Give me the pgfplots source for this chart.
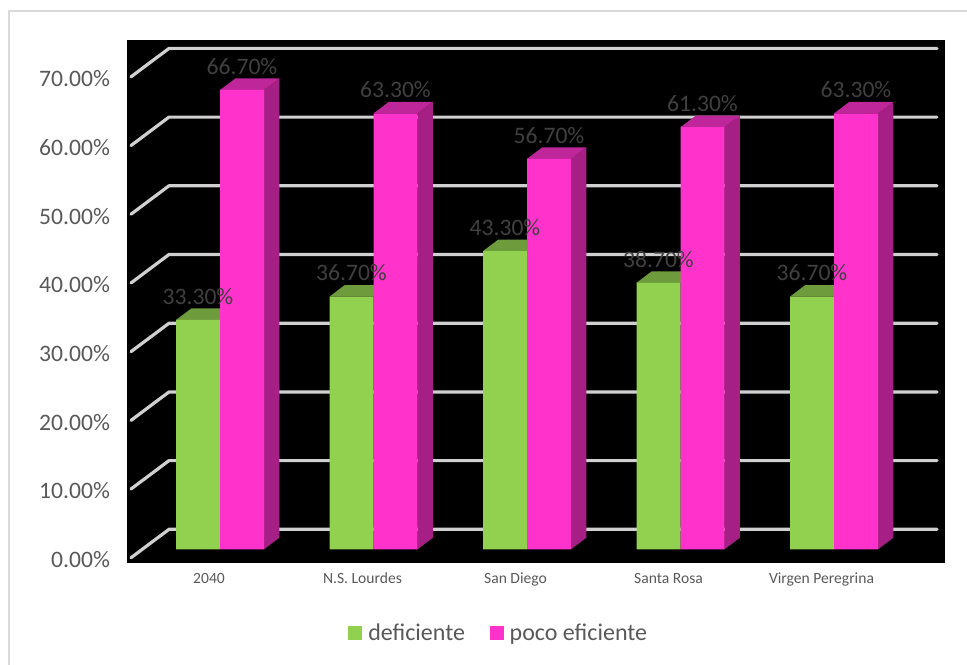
\documentclass[border=0pt]{standalone}
\usepackage{pgfplots}
\usepackage{pgfplotstable}
\usepackage{fontspec}
\setmainfont{Carlito}
\pgfplotsset{compat=1.18}

% 1 px of the layout = 0.75 pt. Bars: front face 6.886 px per percentage point.
\pgfplotstableread{
x v
198 33.3
351.5 36.7
505 43.3
658.5 38.7
812 36.7
}\deficiente
\pgfplotstableread{
x v
242 66.7
395.5 63.3
549 56.7
702.5 61.3
856 63.3
}\pocoeficiente

\definecolor{verde}{HTML}{92D050}
\definecolor{verdetop}{HTML}{6E9C3C}
\definecolor{rosa}{HTML}{FF33CC}
\definecolor{rosatop}{HTML}{BF2699}
\definecolor{rosalado}{HTML}{A61F84}
\definecolor{rejilla}{HTML}{D0D0D0}
\definecolor{marco}{HTML}{D9D9D9}
\definecolor{texto}{HTML}{595959}
\definecolor{etiqueta}{HTML}{404040}

\begin{document}
\begin{tikzpicture}
\path[use as bounding box] (0pt,0pt) rectangle (725.25pt,498pt);
\draw[marco,line width=1.1pt] (6.75pt,-4pt) -- (6.75pt,489.75pt) -- (730pt,489.75pt);
\begin{axis}[
  at={(95.25pt,75.75pt)}, anchor=south west,
  scale only axis, width=613.5pt, height=392.25pt,
  xmin=127, xmax=945, ymin=-1.99, ymax=73.96,
  axis background/.style={fill=black},
  axis line style={draw=none},
  tick style={draw=none},
  xtick={209,362.5,515.5,668.5,821.5},
  xticklabels={2040,N.S. Lourdes,San Diego,Santa Rosa,Virgen Peregrina},
  xticklabel style={font=\fontsize{11.7pt}{12pt}\selectfont,text=texto,anchor=base,yshift=-15.4pt},
  ytick={-1.23,8.75,18.72,28.70,38.68,48.66,58.63,68.61},
  yticklabels={0.00\%,10.00\%,20.00\%,30.00\%,40.00\%,50.00\%,60.00\%,70.00\%},
  yticklabel style={font=\fontsize{17.7pt}{20pt}\selectfont,text=texto,anchor=east,xshift=-9.3pt,yshift=-1.5pt},
  /pgf/number format/assume math mode=true,
  legend style={
    at={(0.4548,-0.134)}, anchor=center, draw=none, fill=none,
    legend columns=2, font=\fontsize{18pt}{20pt}\selectfont, text=texto,
    /tikz/every odd column/.append style={column sep=2.5pt},
    /tikz/every even column/.append style={column sep=16.5pt},
  },
  legend image code/.code={
    \fill[#1] (0pt,-5.25pt) rectangle (10.5pt,5.25pt);
  },
]
% gridlines: front edge of the floor, back corner, along the back wall
\pgfplotsset{rejillaStyle/.style={rejilla,line width=2.4pt,forget plot,line cap=round,line join=round}}
\addplot[rejillaStyle] coordinates {(131,-1.23)(169,2.90)(937,2.90)};
\addplot[rejillaStyle] coordinates {(131,8.75)(169,12.88)(937,12.88)};
\addplot[rejillaStyle] coordinates {(131,18.72)(169,22.85)(937,22.85)};
\addplot[rejillaStyle] coordinates {(131,28.70)(169,32.83)(937,32.83)};
\addplot[rejillaStyle] coordinates {(131,38.68)(169,42.81)(937,42.81)};
\addplot[rejillaStyle] coordinates {(131,48.66)(169,52.79)(937,52.79)};
\addplot[rejillaStyle] coordinates {(131,58.63)(169,62.76)(937,62.76)};
\addplot[rejillaStyle] coordinates {(131,68.61)(169,72.74)(937,72.74)};

% top faces of the green bars (depth: +15.3 px across, +1.67 units up)
\pgfplotsset{cara/.style={draw=none,forget plot}}
\addplot[cara,fill=verdetop] coordinates {(176,33.3)(191.3,34.97)(235.3,34.97)(220,33.3)} --cycle;
\addplot[cara,fill=verdetop] coordinates {(329.5,36.7)(344.8,38.37)(388.8,38.37)(373.5,36.7)} --cycle;
\addplot[cara,fill=verdetop] coordinates {(483,43.3)(498.3,44.97)(542.3,44.97)(527,43.3)} --cycle;
\addplot[cara,fill=verdetop] coordinates {(636.5,38.7)(651.8,40.37)(695.8,40.37)(680.5,38.7)} --cycle;
\addplot[cara,fill=verdetop] coordinates {(790,36.7)(805.3,38.37)(849.3,38.37)(834,36.7)} --cycle;

% front faces
\addplot[ybar,bar width=33pt,bar shift=0pt,fill=verde,draw=none] table[x=x,y=v] {\deficiente};
\addlegendentry{deficiente}

% side and top faces of the pink bars
\addplot[cara,fill=rosalado] coordinates {(264,0)(279.3,1.67)(279.3,68.37)(264,66.7)} --cycle;
\addplot[cara,fill=rosalado] coordinates {(417.5,0)(432.8,1.67)(432.8,64.97)(417.5,63.3)} --cycle;
\addplot[cara,fill=rosalado] coordinates {(571,0)(586.3,1.67)(586.3,58.37)(571,56.7)} --cycle;
\addplot[cara,fill=rosalado] coordinates {(724.5,0)(739.8,1.67)(739.8,62.97)(724.5,61.3)} --cycle;
\addplot[cara,fill=rosalado] coordinates {(878,0)(893.3,1.67)(893.3,64.97)(878,63.3)} --cycle;
\addplot[cara,fill=rosatop] coordinates {(220,66.7)(235.3,68.37)(279.3,68.37)(264,66.7)} --cycle;
\addplot[cara,fill=rosatop] coordinates {(373.5,63.3)(388.8,64.97)(432.8,64.97)(417.5,63.3)} --cycle;
\addplot[cara,fill=rosatop] coordinates {(527,56.7)(542.3,58.37)(586.3,58.37)(571,56.7)} --cycle;
\addplot[cara,fill=rosatop] coordinates {(680.5,61.3)(695.8,62.97)(739.8,62.97)(724.5,61.3)} --cycle;
\addplot[cara,fill=rosatop] coordinates {(834,63.3)(849.3,64.97)(893.3,64.97)(878,63.3)} --cycle;

\addplot[ybar,bar width=33pt,bar shift=0pt,fill=rosa,draw=none] table[x=x,y=v] {\pocoeficiente};
\addlegendentry{poco eficiente}

% value labels, on top of every bar
\pgfplotsset{rotulos/.style={
  forget plot, draw=none, mark=none,
  nodes near coords={\pgfmathprintnumber[fixed,fixed zerofill,precision=2]{\pgfplotspointmeta}\%},
  nodes near coords style={font=\fontsize{17.7pt}{20pt}\selectfont,text=etiqueta,anchor=center,yshift=17.7pt},
}}
\addplot[rotulos] table[x=x,y=v] {\deficiente};
\addplot[rotulos] table[x=x,y=v] {\pocoeficiente};
\end{axis}
\end{tikzpicture}
\end{document}
